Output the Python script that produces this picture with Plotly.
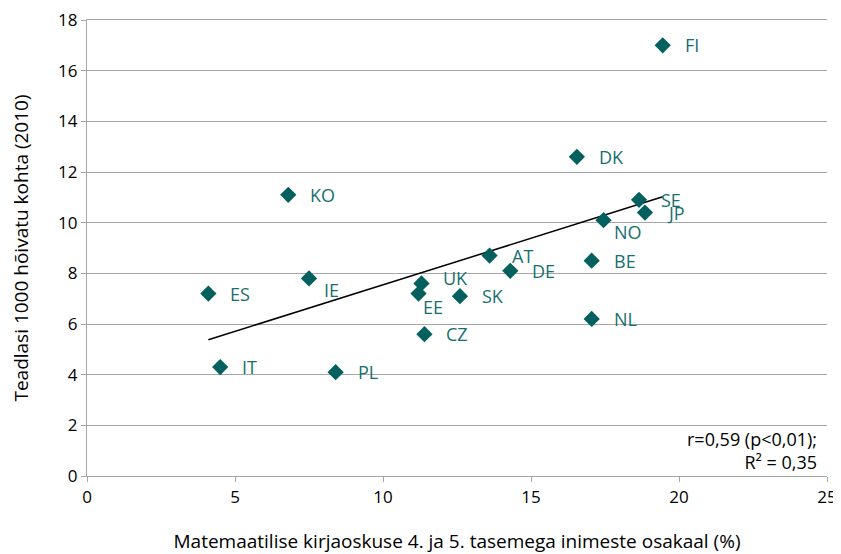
import numpy as np
import plotly.graph_objects as go

countries = ["FI", "DK", "SE", "JP", "NO", "BE", "NL", "AT", "DE", "SK",
             "UK", "EE", "CZ", "IE", "KO", "ES", "IT", "PL"]
math_share = [19.45, 16.55, 18.65, 18.85, 17.45, 17.05, 17.05, 13.6, 14.3, 12.6,
              11.3, 11.2, 11.4, 7.5, 6.8, 4.1, 4.5, 8.4]
researchers = [17.0, 12.6, 10.9, 10.4, 10.1, 8.5, 6.2, 8.7, 8.1, 7.1,
               7.6, 7.2, 5.6, 7.8, 11.1, 7.2, 4.3, 4.1]

# label offsets (pixels) per country: (xshift, yshift)
label_offsets = {
    "IE": (13, -12), "EE": (2, -13), "UK": (20, 5), "NO": (8, -12),
}

x_ticks = [0, 5, 10, 15, 20, 25]
y_ticks = list(range(0, 19, 2))

stats_text = "r=0,59 (p<0,01);<br>R² = 0,35"
x_title = "Matemaatilise kirjaoskuse 4. ja 5. tasemega inimeste osakaal (%)"
y_title = "Teadlasi 1000 hõivatu kohta (2010)"

marker_color = "#03605F"
label_color = "#17706F"
font_family = "Open Sans, Noto Sans, sans-serif"

x = np.array(math_share)
y = np.array(researchers)
slope, intercept = np.polyfit(x, y, 1)
xl = np.array([x.min(), x.max()])
yl = slope * xl + intercept

fig = go.Figure()
fig.add_trace(go.Scatter(
    x=xl, y=yl, mode="lines", line=dict(color="black", width=1.5),
    hoverinfo="skip", showlegend=False))
fig.add_trace(go.Scatter(
    x=math_share, y=researchers, mode="markers",
    marker=dict(symbol="diamond", size=12.5, color=marker_color),
    showlegend=False))

for c, xv, yv in zip(countries, math_share, researchers):
    dx, dy = label_offsets.get(c, (20, 0))
    fig.add_annotation(x=xv, y=yv, text=c, showarrow=False,
                       xanchor="left", yanchor="middle",
                       xshift=dx, yshift=dy,
                       font=dict(family=font_family, size=18, color=label_color))

fig.add_annotation(xref="paper", yref="paper", x=0.989, y=0.0,
                   xanchor="right", yanchor="bottom", align="right",
                   text=stats_text, showarrow=False,
                   font=dict(family=font_family, size=18, color="black"))

axis_common = dict(showline=True, linecolor="#A6A6A6", linewidth=1.3,
                   ticks="outside", tickcolor="#A6A6A6", ticklen=5,
                   zeroline=False, automargin=False,
                   ticklabeloverflow="allow",
                   tickfont=dict(family=font_family, size=17, color="black"))

fig.update_xaxes(range=[0, 25], tickvals=x_ticks, showgrid=False,
                 mirror=True,
                 title=dict(text=x_title, standoff=29,
                            font=dict(family=font_family, size=19, color="black")),
                 **axis_common)
fig.update_yaxes(range=[0, 18], tickvals=y_ticks, showgrid=True,
                 gridcolor="#A6A6A6", gridwidth=1.3,
                 title=dict(text=y_title, standoff=34,
                            font=dict(family=font_family, size=19, color="black")),
                 **axis_common)

# page body has an 8px margin, so the figure is sized to fit inside it
fig.update_layout(
    width=833, height=546,
    margin=dict(l=79, r=14, t=12, b=78),
    plot_bgcolor="white", paper_bgcolor="white",
    font=dict(family=font_family),
)

fig.write_html("out.html")
